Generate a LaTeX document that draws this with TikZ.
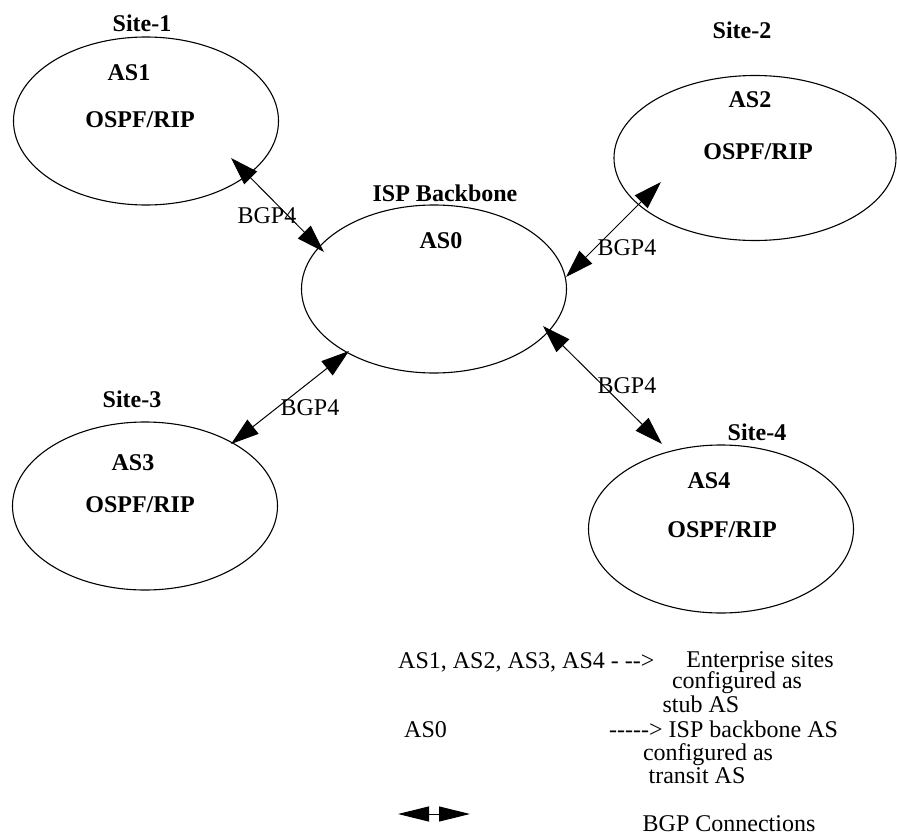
\documentclass[tikz,border=0pt]{standalone}
\usepackage{fontspec}
\setmainfont{Liberation Serif}
\usetikzlibrary{shapes.geometric,arrows.meta}
\begin{document}
\begin{tikzpicture}[x=1pt,y=-1pt,
  asbox/.style={ellipse, draw, line width=1.1pt, minimum width=265pt, minimum height=168pt, inner sep=0pt},
  title/.style={anchor=base, inner sep=0pt, font=\fontsize{24}{28}\selectfont\bfseries},
  plain/.style={anchor=base, inner sep=0pt, font=\fontsize{24}{28}\selectfont},
  plainleft/.style={anchor=base west, inner sep=0pt, font=\fontsize{24}{28}\selectfont},
  bgp/.style={line width=1pt, {Triangle[length=28pt,width=18pt]}-{Triangle[length=28pt,width=18pt]}},
  keyarrow/.style={line width=1pt, {Triangle[length=31pt,width=15pt]}-{Triangle[length=31pt,width=15pt]}},
]
\useasboundingbox (0,0) rectangle (897,835);

% autonomous systems
\node[asbox] (s1) at (146,121) {};
\node[asbox, minimum width=282pt, minimum height=165pt] (s2) at (755,158) {};
\node[asbox] (isp) at (434,289) {};
\node[asbox] (s3) at (145,506) {};
\node[asbox] (s4) at (721,529) {};

% titles and contents
\node[title] (s1name) at (142,31) {Site-1};
\node[title] (s1as) at (129,80) {AS1};
\node[title] (s1igp) at (140,127) {OSPF/RIP};

\node[title] (s2name) at (742,38) {Site-2};
\node[title] (s2as) at (750,107) {AS2};
\node[title] (s2igp) at (758,159) {OSPF/RIP};

\node[title] (ispname) at (445,201) {ISP Backbone};
\node[title] (ispas) at (441,248) {AS0};

\node[title] (s3name) at (132,407) {Site-3};
\node[title] (s3as) at (133,470) {AS3};
\node[title] (s3igp) at (140,512) {OSPF/RIP};

\node[title] (s4name) at (757,440) {Site-4};
\node[title] (s4as) at (709,488) {AS4};
\node[title] (s4igp) at (722,537) {OSPF/RIP};

% BGP peering points
\coordinate (p1a) at (231,158);
\coordinate (p1b) at (324,252);
\coordinate (p2a) at (661,182);
\coordinate (p2b) at (566,277);
\coordinate (p3a) at (349,351);
\coordinate (p3b) at (231,444);
\coordinate (p4a) at (543,326);
\coordinate (p4b) at (662,444);

\draw[bgp] (p1a) -- (p1b);
\draw[bgp] (p2a) -- (p2b);
\draw[bgp] (p3a) -- (p3b);
\draw[bgp] (p4a) -- (p4b);

\node[plain] (l1) at (267,223) {BGP4};
\node[plain] (l2) at (627,255) {BGP4};
\node[plain] (l3) at (310,415) {BGP4};
\node[plain] (l4) at (627,393) {BGP4};

% key
\node[plainleft] (k1) at (398,668) {AS1, AS2, AS3, AS4 - -{}->};
\node[plain] (k1a) at (760,667) {Enterprise sites};
\node[plain] (k1b) at (737,688) {configured as};
\node[plain] (k1c) at (701,712) {stub AS};
\node[plainleft] (k2) at (404,737) {AS0};
\node[plainleft] (k2a) at (609,737) {-{}-{}-{}-{}-> ISP backbone AS};
\node[plain] (k2b) at (708,760) {configured as};
\node[plain] (k2c) at (697,783) {transit AS};

\coordinate (ka) at (398,814);
\coordinate (kb) at (470,814);
\draw[keyarrow] (ka) -- (kb);
\node[plain] (k3) at (729,831) {BGP Connections};
\end{tikzpicture}
\end{document}
